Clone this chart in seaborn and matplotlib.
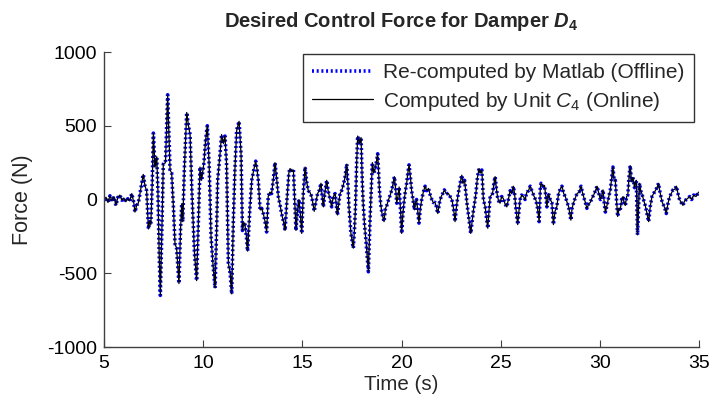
import numpy as np
import pandas as pd
import matplotlib
matplotlib.use("Agg")
import matplotlib.pyplot as plt
import seaborn as sns

time_s = [5.00, 5.10, 5.20, 5.30, 5.40, 5.50, 5.60, 5.70, 5.80, 5.90, 6.00, 6.10, 6.20, 6.30, 6.40, 6.50, 6.56, 6.65, 6.73, 6.85,
          6.98, 7.07, 7.15, 7.24, 7.30, 7.36, 7.43, 7.49, 7.57, 7.66, 7.72, 7.78, 7.84, 7.92, 7.99, 8.10, 8.21, 8.33, 8.41, 8.50,
          8.58, 8.66, 8.78, 8.86, 8.92, 8.97, 9.05, 9.17, 9.26, 9.34, 9.43, 9.56, 9.67, 9.76, 9.84, 9.92, 10.04, 10.12, 10.21, 10.30,
          10.40, 10.50, 10.60, 10.68, 10.73, 10.85, 10.93, 11.02, 11.10, 11.18, 11.27, 11.36, 11.44, 11.52, 11.60, 11.69, 11.81, 11.91, 11.98, 12.03,
          12.10, 12.18, 12.24, 12.30, 12.36, 12.45, 12.55, 12.65, 12.72, 12.78, 12.87, 12.95, 13.04, 13.12, 13.20, 13.28, 13.36, 13.45, 13.55, 13.62,
          13.70, 13.79, 13.88, 13.96, 14.05, 14.13, 14.20, 14.26, 14.32, 14.38, 14.46, 14.55, 14.63, 14.68, 14.75, 14.83, 14.90, 14.97, 15.05, 15.14,
          15.22, 15.30, 15.38, 15.47, 15.55, 15.60, 15.68, 15.77, 15.85, 15.94, 16.00, 16.06, 16.15, 16.23, 16.30, 16.40, 16.48, 16.56, 16.65, 16.71,
          16.77, 16.84, 16.90, 16.98, 17.07, 17.15, 17.24, 17.30, 17.35, 17.45, 17.57, 17.63, 17.68, 17.74, 17.79, 17.88, 17.96, 18.02, 18.07, 18.13,
          18.22, 18.33, 18.41, 18.47, 18.53, 18.60, 18.66, 18.73, 18.80, 18.89, 18.95, 19.01, 19.12, 19.19, 19.26, 19.35, 19.43, 19.52, 19.64, 19.70,
          19.76, 19.82, 19.88, 19.94, 20.01, 20.07, 20.14, 20.20, 20.26, 20.32, 20.38, 20.45, 20.51, 20.58, 20.65, 20.70, 20.76, 20.82, 20.88, 20.95,
          21.02, 21.10, 21.19, 21.27, 21.36, 21.45, 21.53, 21.60, 21.69, 21.76, 21.83, 21.92, 22.00, 22.08, 22.16, 22.25, 22.37, 22.45, 22.54, 22.62,
          22.70, 22.77, 22.84, 22.94, 23.04, 23.10, 23.18, 23.24, 23.30, 23.40, 23.49, 23.56, 23.63, 23.69, 23.75, 23.83, 23.91, 23.98, 24.05, 24.13,
          24.22, 24.28, 24.35, 24.41, 24.47, 24.53, 24.59, 24.65, 24.72, 24.78, 24.84, 24.90, 24.97, 25.05, 25.14, 25.22, 25.31, 25.40, 25.48, 25.56,
          25.64, 25.70, 25.76, 25.81, 25.86, 25.92, 25.98, 26.06, 26.15, 26.23, 26.32, 26.40, 26.49, 26.57, 26.66, 26.72, 26.78, 26.86, 26.94, 27.00,
          27.04, 27.12, 27.21, 27.28, 27.33, 27.41, 27.50, 27.58, 27.66, 27.74, 27.83, 27.92, 28.00, 28.09, 28.18, 28.26, 28.35, 28.43, 28.54, 28.60,
          28.68, 28.76, 28.85, 28.95, 29.05, 29.12, 29.18, 29.27, 29.35, 29.44, 29.52, 29.60, 29.69, 29.78, 29.86, 29.95, 30.03, 30.10, 30.16, 30.22,
          30.28, 30.36, 30.45, 30.53, 30.60, 30.66, 30.72, 30.78, 30.84, 30.90, 30.96, 31.03, 31.10, 31.17, 31.23, 31.29, 31.35, 31.41, 31.47, 31.53,
          31.60, 31.67, 31.75, 31.80, 31.84, 31.90, 31.95, 32.00, 32.06, 32.12, 32.20, 32.29, 32.37, 32.46, 32.55, 32.63, 32.71, 32.80, 32.88, 32.96,
          33.02, 33.08, 33.15, 33.22, 33.28, 33.35, 33.43, 33.52, 33.60, 33.69, 33.78, 33.86, 33.94, 34.02, 34.10, 34.19, 34.27, 34.36, 34.45, 34.53,
          34.63, 34.73, 34.85, 34.98]

force_matlab = [0, 15, -20, 25, -10, 20, -40, 15, 30, -5, 10, -15, 5, -10, 40, -20, -85, -40, -25, 70,
                170, 90, 60, -200, -150, -170, 100, 450, 220, 290, 50, -360, -650, -200, 240, 250, 710, 200, 180, -50,
                -300, -330, -570, -200, -30, -150, 200, 590, 500, 440, 60, -360, -550, -150, 220, 130, 250, 400, 500, 240,
                -260, -450, -600, -200, 130, 310, 440, 380, 430, 240, -430, -500, -640, -150, 200, 470, 530, 310, -210, -160,
                -160, -250, -350, -200, -50, 130, 200, 260, 200, 130, -70, -60, -100, -150, -220, 20, 50, 40, 150, 250,
                150, 20, -40, -100, -150, -210, -50, 60, 180, 210, 190, 200, -50, -210, -80, 0, -100, -230, 50, 220,
                120, 60, 50, 20, -40, -80, -20, 40, 60, 110, 20, -50, 60, 130, 60, 0, -50, 20, 40, -30,
                -105, -20, 40, 60, 100, 150, 240, 100, -50, -230, -330, -200, -50, 250, 430, 380, 420, 130, -30, -160,
                -300, -490, -150, 50, 250, 180, 200, 250, 310, 60, -30, -90, -150, -60, -40, 0, 30, 70, 155, 80,
                -25, 20, 85, -50, -230, -100, 0, 60, 110, 180, 235, 150, 60, 0, -70, -20, 0, -80, -160, -60,
                0, 50, 90, 60, 75, 30, 0, -20, -20, -50, -95, -20, 20, 40, 65, 40, 40, 20, 0, -60,
                -150, -50, 20, 100, 165, 110, 130, 50, -25, -130, -230, -150, -70, -20, 40, 150, 210, 180, 200, 0,
                -50, -120, -195, -80, 20, 30, 40, 100, 155, 80, 20, -10, -25, 20, 5, -30, -50, 10, 60, 40,
                90, 40, -50, -110, -170, -80, 0, 30, 20, 0, 50, 60, 90, 60, 30, 10, -5, -60, -150, 80,
                110, 90, 95, 20, -50, 40, 0, -20, -170, -80, -50, 40, 70, 90, 40, 20, -20, -50, -140, -60,
                -20, 10, 40, 50, 90, 50, 20, -20, -60, -30, -20, 10, 30, 60, 90, 40, 0, 30, 65, -20,
                -85, -40, 20, 65, 150, 220, 130, 130, 0, -115, -60, -70, 0, 20, -30, -40, 20, 30, 150, 230,
                120, 150, 80, 120, 130, -240, -60, 110, 60, 40, 0, -40, -90, -150, -40, 20, 40, 60, 80, 110,
                60, 20, -20, -40, -60, -95, -30, 20, 40, 65, 70, 90, 40, 0, -20, -40, -10, 0, 10, 20,
                0, 30, 20, 50]

# The on-line unit output is indistinguishable from the off-line re-computation
force_unit = list(force_matlab)

series_labels = ["Re-computed by Matlab (Offline)", r"Computed by Unit $C_4$ (Online)"]
x_ticks = [5, 10, 15, 20, 25, 30, 35]
y_ticks = [-1000, -500, 0, 500, 1000]

sns.set_style("white")
plt.rcParams["font.family"] = ["Liberation Sans", "DejaVu Sans"]
plt.rcParams["mathtext.fontset"] = "custom"
plt.rcParams["mathtext.rm"] = "Liberation Sans"
plt.rcParams["mathtext.it"] = "Liberation Sans:italic"
plt.rcParams["mathtext.bf"] = "Liberation Sans:bold"
plt.rcParams["mathtext.bfit"] = "Liberation Sans:bold:italic"
plt.rcParams["axes.unicode_minus"] = False

df = pd.DataFrame({
    "t": time_s * 2,
    "F": force_matlab + force_unit,
    "src": [series_labels[0]] * len(time_s) + [series_labels[1]] * len(time_s),
})

fig = plt.figure(figsize=(7.14, 4.11), dpi=100)
ax = fig.add_axes([104 / 714, 1 - 347 / 411, (699 - 104) / 714, (347 - 52) / 411])

sns.lineplot(data=df[df.src == series_labels[0]], x="t", y="F", ax=ax, color="#0000FF",
             linewidth=2.6, linestyle=(0, (0.55, 0.75)), label=series_labels[0], sort=False, estimator=None)
sns.lineplot(data=df[df.src == series_labels[1]], x="t", y="F", ax=ax, color="black",
             linewidth=0.9, label=series_labels[1], sort=False, estimator=None)

ax.set_xlim(5, 35)
ax.set_ylim(-1000, 1000)
ax.set_xticks(x_ticks)
ax.set_yticks(y_ticks)
ax.tick_params(bottom=True, left=True, direction="in", length=5, width=0.8, labelsize=14,
               color="#404040", labelcolor="black")
ax.tick_params(axis="x", pad=6)
ax.tick_params(axis="y", pad=5)
for s in ["top", "right"]:
    ax.spines[s].set_visible(False)
for s in ["left", "bottom"]:
    ax.spines[s].set_color("#404040")
    ax.spines[s].set_linewidth(1.0)

ax.set_xlabel("Time (s)", fontsize=14.8, labelpad=2)
ax.set_ylabel("Force (N)", fontsize=15.5, labelpad=10)
ax.set_title(r"Desired Control Force for Damper $\mathbfit{D}_\mathbf{4}$", fontsize=14.5,
             fontweight="bold", pad=18)

leg = ax.legend(loc="upper right", bbox_to_anchor=(694 / 714, 1 - 54 / 411),
                bbox_transform=fig.transFigure, fontsize=15, frameon=True, fancybox=False,
                edgecolor="black", handlelength=2.9, handletextpad=0.5, borderpad=0.45,
                labelspacing=0.35, borderaxespad=0)
leg.get_frame().set_linewidth(1.0)

fig.savefig("out.png", dpi=100, facecolor="white")
